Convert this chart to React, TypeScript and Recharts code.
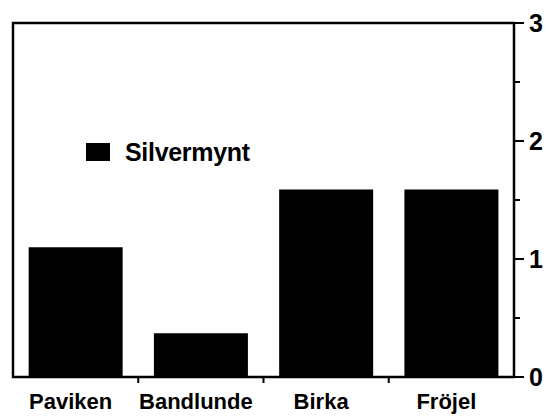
import React from "react";
import { BarChart, Bar, XAxis, YAxis, ReferenceArea } from "recharts";

const categories = ["Paviken", "Bandlunde", "Birka", "Fröjel"];
const silvermynt = [1.1, 0.37, 1.59, 1.59];
const yTicks = [0, 0.5, 1, 1.5, 2, 2.5, 3];
const seriesName = "Silvermynt";

const data = categories.map((c, i) => ({ name: c, silvermynt: silvermynt[i] }));

const FONT = "'Liberation Sans', Arial, Helvetica, sans-serif";
const W = 550;
const H = 416;
const MARGIN = { top: 23, right: 0, bottom: 0, left: 13 };
const RIGHT_W = 36;
const BOTTOM_H = 39;
const plotWidth = W - MARGIN.left - MARGIN.right - RIGHT_W;
const step = plotWidth / categories.length;

const XTick = (props: any) => {
  const { x, y, payload, index } = props;
  return (
    <g>
      {index > 0 && (
        <line x1={x - step / 2} x2={x - step / 2} y1={y - 1} y2={y + 6} stroke="#000" strokeWidth={2} />
      )}
      <text
        x={x - 5}
        y={y + 32}
        textAnchor="middle"
        fontFamily={FONT}
        fontWeight="bold"
        fontSize={22}
        fill="#000"
      >
        {payload.value}
      </text>
    </g>
  );
};

const YTick = (props: any) => {
  const { x, y, payload } = props;
  const major = Number.isInteger(payload.value);
  return (
    <g>
      <line x1={x} x2={x + (major ? 10 : 6)} y1={y} y2={y} stroke="#000" strokeWidth={2} />
      {major && (
        <text
          x={x + 15}
          y={y}
          dominantBaseline="central"
          textAnchor="start"
          fontFamily={FONT}
          fontWeight="bold"
          fontSize={25}
          fill="#000"
        >
          {payload.value}
        </text>
      )}
    </g>
  );
};

export default function App() {
  return (
    <div style={{ position: "absolute", left: 0, top: 0, width: W, height: H, background: "#fff" }}>
      <BarChart width={W} height={H} data={data} margin={MARGIN} barCategoryGap="12.5%">
        <XAxis
          dataKey="name"
          height={BOTTOM_H}
          axisLine={{ stroke: "#000", strokeWidth: 2 }}
          tickLine={false}
          tickSize={0}
          tickMargin={0}
          tick={<XTick />}
          interval={0}
        />
        <YAxis
          orientation="right"
          width={RIGHT_W}
          domain={[0, 3]}
          ticks={yTicks}
          interval={0}
          axisLine={{ stroke: "#000", strokeWidth: 2 }}
          tickLine={false}
          tickSize={0}
          tickMargin={0}
          tick={<YTick />}
        />
        <ReferenceArea
          y1={0}
          y2={3}
          fill="none"
          stroke="#000"
          strokeWidth={2.5}
          ifOverflow="visible"
        />
        <Bar dataKey="silvermynt" name={seriesName} fill="#000" isAnimationActive={false} />
      </BarChart>
      <div
        style={{
          position: "absolute",
          left: 86,
          top: 138,
          display: "flex",
          alignItems: "center",
          fontFamily: FONT,
        }}
      >
        <span style={{ display: "inline-block", width: 24, height: 18, background: "#000", marginRight: 15 }} />
        <span style={{ fontSize: 25, fontWeight: "bold", letterSpacing: -0.3, color: "#000", lineHeight: "28px" }}>
          {seriesName}
        </span>
      </div>
    </div>
  );
}
